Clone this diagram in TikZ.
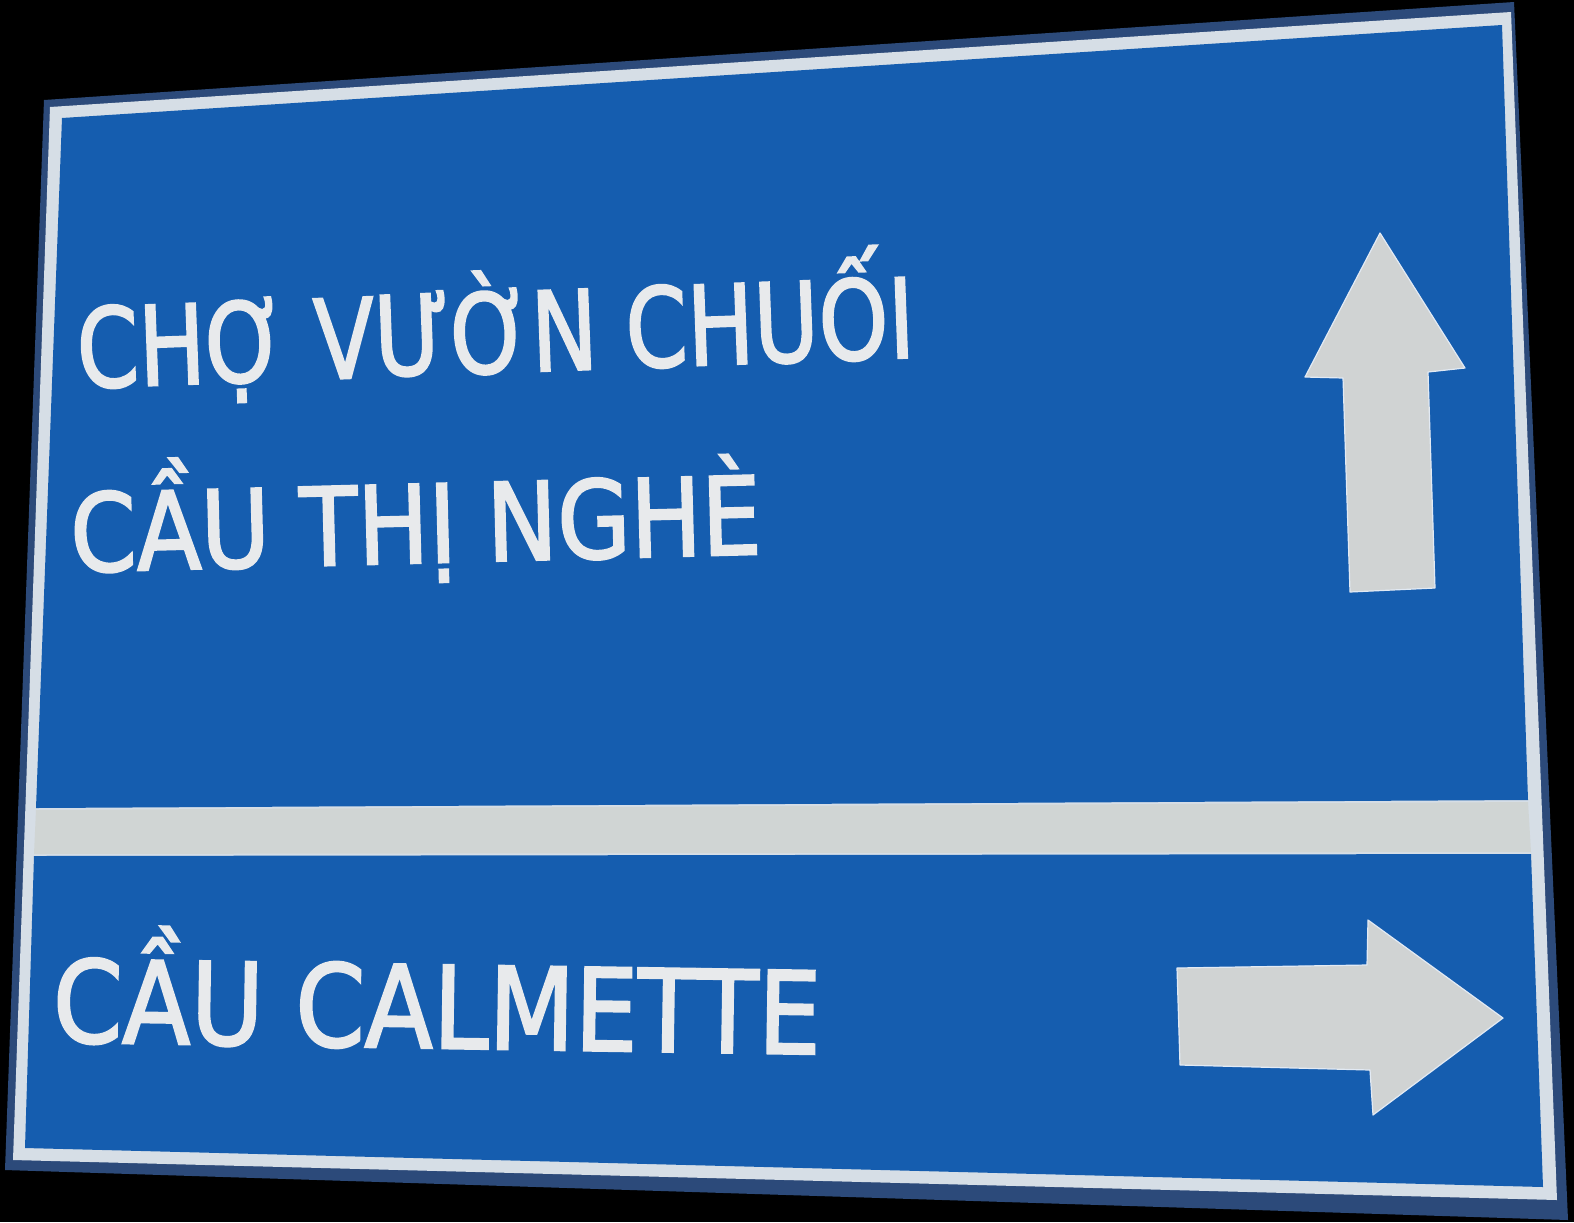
\documentclass[tikz,border=0pt]{standalone}
\usepackage{fontspec}
\newfontfamily\signfont[FakeBold=2.2]{DejaVu Sans}
\definecolor{rimblue}{RGB}{44,74,122}
\definecolor{borderwhite}{RGB}{214,222,230}
\definecolor{signblue}{RGB}{21,93,175}
\definecolor{stripgray}{RGB}{208,213,212}
\definecolor{arrowgray}{RGB}{208,211,211}
\definecolor{arrowedge}{RGB}{226,234,244}
\definecolor{letterwhite}{RGB}{232,234,236}
\tikzset{
  arrowsign/.style={fill=arrowgray, draw=arrowedge, line width=0.6pt, line join=round},
  signtext/.style={text=letterwhite, inner sep=0pt, anchor=base west}
}
\begin{document}
\begin{tikzpicture}[x=0.5pt,y=-0.5pt]
        \useasboundingbox [fill=black] (0,0) rectangle (1574,1222);
        \fill [rimblue] (44,100) -- (1514,2) -- (1568,1220) -- (5,1170) -- cycle ;
        \fill [borderwhite] (50,107) -- (1511,12) -- (1557,1200) -- (13,1160) -- cycle ;
        \fill [signblue] (62,118) -- (1502,25) -- (1528,800) -- (36,808) -- cycle ;
        \fill [stripgray] (36,810) -- (1528,802) -- (1531,852) -- (34,854) -- cycle ;
        \fill [signblue] (34,856) -- (1531,854) -- (1543,1187) -- (25,1148) -- cycle ;
        \draw [arrowsign] (1380,233) -- (1465,368) -- (1428,372) -- (1435,588) -- (1350,592) -- (1343,378) -- (1305,377) -- cycle ;
        \draw [arrowsign] (1177,968) -- (1367,965) -- (1368,920) -- (1503,1018) -- (1373,1115) -- (1370,1070) -- (1180,1065) -- cycle ;
        \node (chovuon) [signtext, rotate=2.1, xscale=0.805, font=\signfont\fontsize{55}{60}\selectfont] at (78,388) {CHỢ VƯỜN CHUỐI};
        \node (cauthinghe) [signtext, rotate=1.5, xscale=0.875, font=\signfont\fontsize{54}{60}\selectfont] at (71,572) {CẦU THỊ NGHÈ};
        \node (caucalmette) [signtext, rotate=-0.9, xscale=0.875, font=\signfont\fontsize{57}{64}\selectfont] at (52,1042) {CẦU CALMETTE};
\end{tikzpicture}
\end{document}
